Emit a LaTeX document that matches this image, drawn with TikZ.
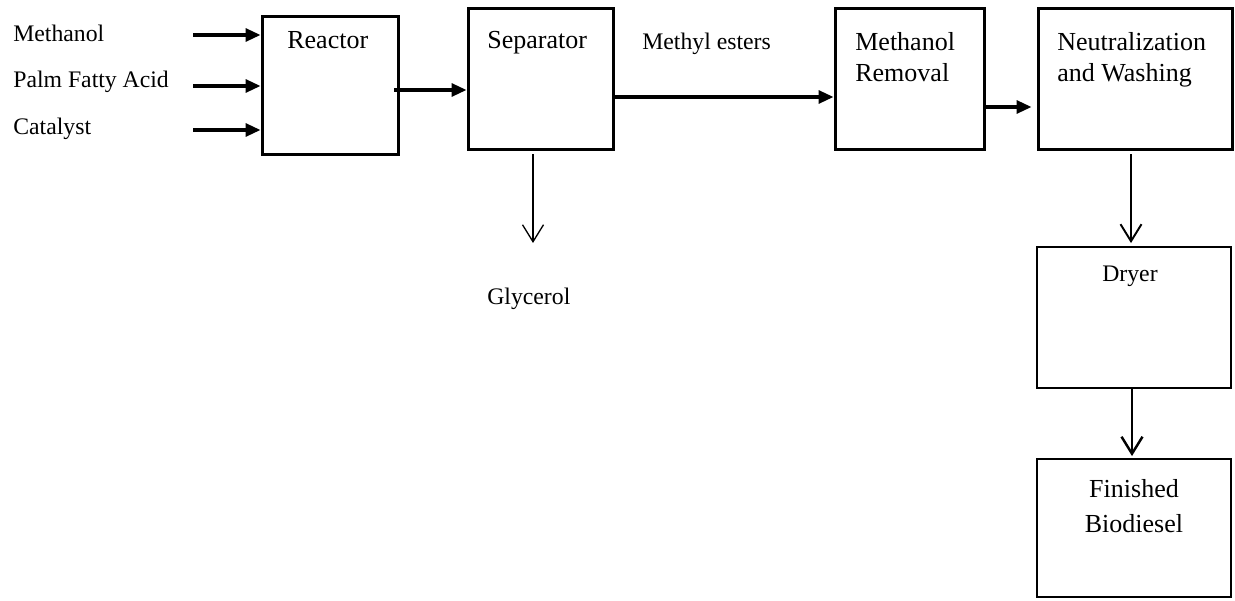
\documentclass[tikz,border=0pt]{standalone}
\usepackage{fontspec}
\setmainfont{Liberation Serif}
\usetikzlibrary{arrows.meta}

\tikzset{
    unit/.style={draw, line width=1.7pt, inner sep=0pt},
    stage/.style={draw, line width=1.1pt, inner sep=0pt},
    feed/.style={line width=1.8pt, -{Triangle[length=0.3cm, width=0.26cm]}},
    drop/.style={-{Straight Barb[length=0.34cm, width=0.42cm]}},
    bigtext/.style={font=\fontsize{14.8}{18.2}\selectfont, inner sep=0pt, align=left},
    smalltext/.style={font=\fontsize{13.5}{16}\selectfont, inner sep=0pt},
}

\begin{document}
\begin{tikzpicture}[x=0.02cm, y=-0.02cm]
        \useasboundingbox (0,0) rectangle (1235,601);

        \node[unit, minimum width=2.74cm, minimum height=2.78cm] (reactor) at (330.5,85.5) {};
        \node[unit, minimum width=2.92cm, minimum height=2.84cm] (separator) at (541,79) {};
        \node[unit, minimum width=3.0cm, minimum height=2.84cm] (removal) at (910,79) {};
        \node[unit, minimum width=3.9cm, minimum height=2.84cm] (washing) at (1135.5,79) {};
        \node[stage, minimum width=3.88cm, minimum height=2.82cm] (dryer) at (1134,317.5) {};
        \node[stage, minimum width=3.88cm, minimum height=2.76cm] (biodiesel) at (1134,528) {};

        \node[bigtext, anchor=base west] (reactortxt) at (287,49) {Reactor};
        \node[bigtext, anchor=base west] (separatortxt) at (487,49) {Separator};
        \node[bigtext, anchor=base west] (removaltxt) at (855,82) {Methanol\\Removal};
        \node[bigtext, anchor=base west] (washingtxt) at (1057,82) {Neutralization\\and Washing};
        \node[smalltext, anchor=base] (dryertxt) at (1130,282) {Dryer};
        \node[bigtext, align=center, font=\fontsize{14.8}{19.9}\selectfont, anchor=base] (biodieseltxt) at (1134,532) {Finished\\Biodiesel};

        \node[smalltext, anchor=base west] (methanol) at (13,42) {Methanol};
        \node[smalltext, anchor=base west] (palm) at (13,88) {Palm Fatty Acid};
        \node[smalltext, anchor=base west] (catalyst) at (13,135) {Catalyst};
        \node[smalltext, anchor=base west] (esters) at (642,50) {Methyl esters};
        \node[smalltext, anchor=base west] (glycerol) at (487,305) {Glycerol};

        \coordinate (in1) at (193,35);
        \coordinate (in2) at (193,86);
        \coordinate (in3) at (193,130);
        \coordinate (r2s) at (394,90);
        \coordinate (s2r) at (614,97);
        \coordinate (r2w) at (983,107);
        \coordinate (gly) at (533,243);

        \draw[feed] (in1) -- (in1 -| reactor.west);
        \draw[feed] (in2) -- (in2 -| reactor.west);
        \draw[feed] (in3) -- (in3 -| reactor.west);
        \draw[feed] (r2s) -- (r2s -| separator.west);
        \draw[feed] (s2r) -- (s2r -| removal.west);
        \draw[feed] (r2w) -- (r2w -| washing.west) [shorten >=0.1cm];
        \draw[drop, line width=0.75pt] (gly |- separator.south) [shorten <=0.06cm] -- (gly);
        \draw[drop, line width=1.1pt] (washing.south -| 1131,0) [shorten <=0.06cm, shorten >=0.06cm] -- (dryer.north -| 1131,0);
        \draw[drop, line width=1.4pt] (dryer.south -| 1132,0) [shorten >=0.04cm] -- (biodiesel.north -| 1132,0);
\end{tikzpicture}
\end{document}
